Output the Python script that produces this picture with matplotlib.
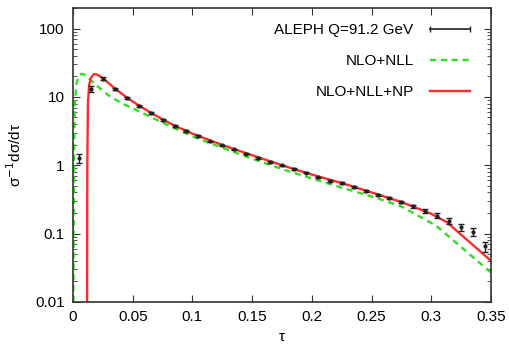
import numpy as np
import matplotlib
matplotlib.use("Agg")
import matplotlib.pyplot as plt
from matplotlib.lines import Line2D

plt.rcParams['font.family'] = ['Liberation Sans', 'DejaVu Sans']

# ALEPH data, Q = 91.2 GeV
tau_data = [0.005, 0.015, 0.025, 0.035, 0.045, 0.055, 0.065, 0.075, 0.085, 0.095,
            0.105, 0.115, 0.125, 0.135, 0.145, 0.155, 0.165, 0.175, 0.185, 0.195,
            0.205, 0.215, 0.225, 0.235, 0.245, 0.255, 0.265, 0.275, 0.285, 0.295,
            0.305, 0.315, 0.325, 0.335, 0.345]
sigma_data = [1.28, 13.0, 18.4, 13.2, 9.7, 7.4, 5.8, 4.6, 3.75, 3.16,
              2.67, 2.25, 1.97, 1.72, 1.48, 1.28, 1.12, 1.00, 0.88, 0.78,
              0.67, 0.59, 0.55, 0.48, 0.42, 0.37, 0.33, 0.29, 0.25, 0.215,
              0.184, 0.155, 0.125, 0.107, 0.065]
sigma_err = [0.2, 1.3, 1.0, 0.4, 0.25, 0.18, 0.14, 0.11, 0.09, 0.07,
             0.06, 0.05, 0.04, 0.035, 0.03, 0.026, 0.022, 0.02, 0.018, 0.016,
             0.014, 0.013, 0.012, 0.011, 0.010, 0.010, 0.010, 0.010, 0.011, 0.013,
             0.016, 0.016, 0.015, 0.014, 0.011]

# NLO+NLL (green dashed)
tau_nll = [0.0003, 0.0008, 0.0015, 0.003, 0.005, 0.0075, 0.01, 0.015, 0.02, 0.03,
           0.04, 0.05, 0.075, 0.1, 0.125, 0.15, 0.175, 0.2, 0.225, 0.25,
           0.275, 0.304, 0.35]
sigma_nll = [0.01, 1.0, 8.0, 16.0, 20.5, 21.8, 21.0, 17.5, 14.5, 10.5,
             8.2, 6.8, 4.2, 2.65, 1.8, 1.25, 0.88, 0.64, 0.47, 0.35,
             0.25, 0.131, 0.027]

# NLO+NLL+NP (red solid)
tau_np = [0.0118, 0.0120, 0.0125, 0.0135, 0.015, 0.0175, 0.02, 0.025, 0.035, 0.045,
          0.055, 0.065, 0.075, 0.085, 0.1, 0.125, 0.15, 0.175, 0.2, 0.225,
          0.25, 0.275, 0.3, 0.313, 0.35]
sigma_np = [0.01, 1.0, 8.0, 15.0, 19.0, 21.5, 21.3, 18.8, 13.3, 9.8,
            7.5, 5.9, 4.7, 3.8, 2.9, 1.98, 1.40, 1.0, 0.73, 0.55,
            0.40, 0.29, 0.195, 0.147, 0.040]

GREEN = '#33dd22'
RED = '#ff2a2a'
DASH = (0, (2.6, 2.0))

fig = plt.figure(figsize=(5.09, 3.47), dpi=100)
ax = fig.add_axes([0.1434, 0.1297, 0.8212, 0.8473])

ax.errorbar(tau_data, sigma_data, yerr=sigma_err, fmt='o', color='#202020',
            markersize=2, elinewidth=1.0, capsize=2.2, capthick=1.0, zorder=3)
ax.plot(tau_nll, sigma_nll, color=GREEN, lw=1.7, ls=DASH, zorder=2)
ax.plot(tau_np, sigma_np, color=RED, lw=1.7, zorder=2)

ax.set_yscale('log')
ax.set_xlim(0, 0.35)
ax.set_ylim(0.01, 200)
ax.set_xticks(np.arange(0, 0.351, 0.05))
ax.set_xticklabels(['0', '0.05', '0.1', '0.15', '0.2', '0.25', '0.3', '0.35'])
ax.set_yticks([0.01, 0.1, 1, 10, 100])
ax.set_yticklabels(['0.01', '0.1', '1', '10', '100'])
ax.tick_params(which='both', direction='in', top=True, right=True, labelsize=11,
               color='#333333')
ax.tick_params(which='major', length=5)
ax.tick_params(which='minor', length=3)
ax.tick_params(axis='x', pad=6)
ax.tick_params(axis='y', pad=6)
for s in ax.spines.values():
    s.set_color('#333333')
    s.set_linewidth(1.2)

ax.set_xlabel('τ', fontsize=11, labelpad=4)
ax.set_ylabel('σ$^{-1}$dσ/dτ', fontsize=11, labelpad=8)

handles = [Line2D([], [], color='#202020', lw=1.2, marker='|', markersize=5),
           Line2D([], [], color=GREEN, lw=1.7, ls=DASH),
           Line2D([], [], color=RED, lw=1.7)]
labels = ['ALEPH Q=91.2 GeV', 'NLO+NLL', 'NLO+NLL+NP']
ax.legend(handles, labels, loc='upper right', markerfirst=False, frameon=False,
          numpoints=2, fontsize=11, handlelength=3.2, labelspacing=1.1,
          bbox_to_anchor=(0.994, 0.994))

fig.savefig('out.png', dpi=100)
